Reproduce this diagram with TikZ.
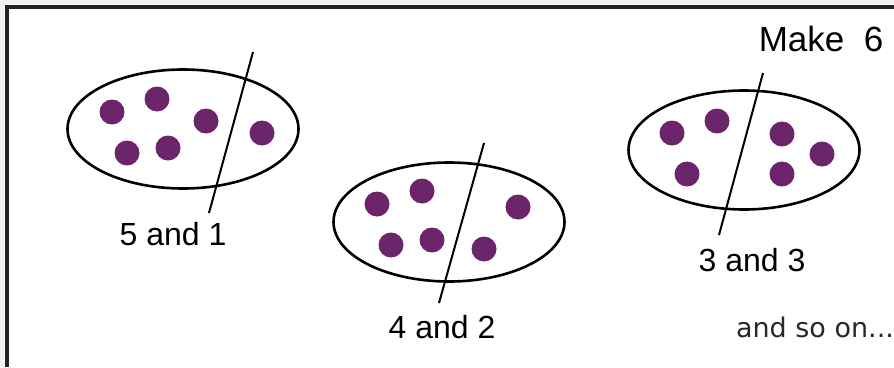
\documentclass[tikz,border=0pt]{standalone}
\usepackage{fontspec}
\setmainfont{Liberation Sans}
\newfontfamily\typedfont{DejaVu Sans}
\usetikzlibrary{shapes.geometric}
\definecolor{dotpurple}{RGB}{108,36,106}
\definecolor{framegray}{RGB}{34,34,34}
\definecolor{typedgray}{RGB}{40,40,40}
\tikzset{
  bag/.style={ellipse, draw=black, line width=2.6pt, minimum width=231pt, minimum height=119pt, inner sep=0pt},
  counter/.style={circle, fill=dotpurple, minimum size=25pt, inner sep=0pt},
  divider/.style={line width=2pt, black},
  hand/.style={font=\fontsize{32}{38}\selectfont, text=black, inner sep=0pt},
  typed/.style={font=\typedfont\fontsize{27}{32}\selectfont, text=typedgray, inner sep=0pt},
}
\begin{document}
\begin{tikzpicture}[x=1pt,y=-1pt]
\useasboundingbox (0,0) rectangle (894,367);
\fill[white] (0,0) rectangle (894,367);
% frame
\fill[black!6] (0,0) rectangle (894,4);
\fill[black!6] (0,0) rectangle (4,367);
\draw[framegray, line width=3.5pt] (7,367) -- (7,7) -- (894,7);

% group 1
\node[bag] (e1) at (183,129) {};
\node[counter] (a1) at (112,112) {};
\node[counter] (a2) at (157,99) {};
\node[counter] (a3) at (206,121) {};
\node[counter] (a4) at (262,133) {};
\node[counter] (a5) at (127,153) {};
\node[counter] (a6) at (168,148) {};
\coordinate (t1) at (253,52);
\coordinate (b1) at (209,213);
\draw[divider] (t1) -- (b1);
\node[hand] (l1) at (173,234) {5 and 1};

% group 2
\node[bag] (e2) at (449,222) {};
\node[counter] (c1) at (377,204) {};
\node[counter] (c2) at (422,191) {};
\node[counter] (c3) at (518,207) {};
\node[counter] (c4) at (391,245) {};
\node[counter] (c5) at (432,240) {};
\node[counter] (c6) at (484,249) {};
\coordinate (t2) at (484,143);
\coordinate (b2) at (439,303);
\draw[divider] (t2) -- (b2);
\node[hand] (l2) at (442,327) {4 and 2};

% group 3
\node[bag] (e3) at (744,150) {};
\node[counter] (f1) at (672,133) {};
\node[counter] (f2) at (717,121) {};
\node[counter] (f3) at (782,134) {};
\node[counter] (f4) at (822,154) {};
\node[counter] (f5) at (687,174) {};
\node[counter] (f6) at (782,174) {};
\coordinate (t3) at (763,73);
\coordinate (b3) at (719,235);
\draw[divider] (t3) -- (b3);
\node[hand] (l3) at (752,260) {3 and 3};

\node[hand, font=\fontsize{35}{40}\selectfont] (title) at (821,39) {Make\ \ 6};
\node[typed] (more) at (815,327) {and so on...};
\end{tikzpicture}
\end{document}
